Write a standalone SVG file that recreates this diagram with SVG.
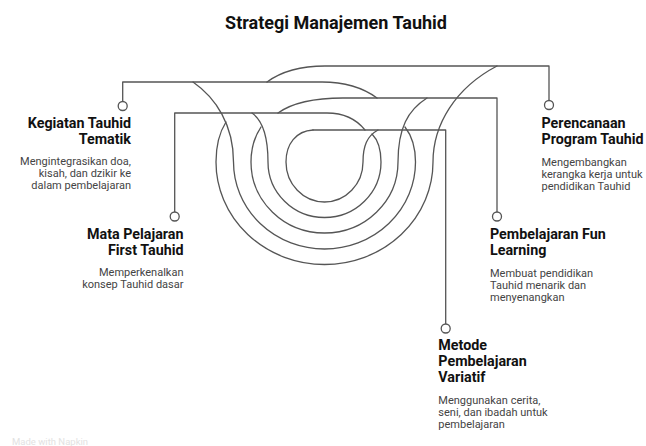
<svg xmlns="http://www.w3.org/2000/svg" width="646" height="446" viewBox="0 0 646 446">
<style>
.ln{fill:none;stroke:#555;stroke-width:1.3;stroke-linecap:round;stroke-linejoin:round}
.dot{fill:#fff;stroke:#555;stroke-width:1.3}
.ttl{font-family:Roboto,"Liberation Sans",sans-serif;font-weight:700;font-size:18px;fill:#111}
.hd{font-family:Roboto,"Liberation Sans",sans-serif;font-weight:700;font-size:14.3px;fill:#111}
.ds{font-family:Roboto,"Liberation Sans",sans-serif;font-size:11px;fill:#444}
.wm{font-family:Roboto,"Liberation Sans",sans-serif;font-size:9.5px;fill:#e2e2e2}
.r{text-anchor:end}
</style>
<rect width="646" height="446" fill="#fff"/>
<text class="ttl" x="336" y="28.5" text-anchor="middle">Strategi Manajemen Tauhid</text>
<g id="connectors">
<path class="ln" d="M226,122 C219,133 216,147 216,162 A108.5,102.5 0 0 0 433,162 C433,125 455,88 497,66"/>
<path class="ln" d="M193,82 C216,98 233.5,125 233.5,162 A91,87 0 0 0 415.5,162 C415.5,148 412,136 405,127"/>
<path class="ln" d="M261,127 C255,136 251,148 251,162 A73.5,71 0 0 0 398,162 C398,128 408,110 427,98"/>
<path class="ln" d="M252,113 C262,120 268,135 268,162 A56.5,55.5 0 0 0 381,162 C381,150 378,140 372,134"/>
<path class="ln" d="M313,130 C296,131 286,144 286,162 A38.5,40 0 0 0 363,162 C363,146 367,136 378,130"/>
<path class="ln" d="M267,82 C282,71 300,66 325,66 L549,66 L549,100.5"/>
<path class="ln" d="M122.7,101.5 L122.7,82 L322,82 C345,82 362,87 377,98"/>
<path class="ln" d="M278,113 C292,103 312,98 343,98 L497,98 L497,212"/>
<path class="ln" d="M174.7,212 L174.7,113 L327,113 C345,113 357,120 365,130"/>
<path class="ln" d="M313,130 L445.7,130 L445.7,324"/>
</g>
<g id="n-kegiatan">
<circle class="dot" cx="122.7" cy="106" r="4.5"/>
<text class="hd r" x="131" y="128">Kegiatan Tauhid</text>
<text class="hd r" x="131" y="144">Tematik</text>
<text class="ds r" x="131" y="165">Mengintegrasikan doa,</text>
<text class="ds r" x="131" y="177">kisah, dan dzikir ke</text>
<text class="ds r" x="131" y="189">dalam pembelajaran</text>
</g>
<g id="n-mata">
<circle class="dot" cx="174.7" cy="216.5" r="4.5"/>
<text class="hd r" x="183.5" y="238.5">Mata Pelajaran</text>
<text class="hd r" x="183.5" y="255">First Tauhid</text>
<text class="ds r" x="183.5" y="275.5">Memperkenalkan</text>
<text class="ds r" x="183.5" y="287.5">konsep Tauhid dasar</text>
</g>
<g id="n-perencanaan">
<circle class="dot" cx="549" cy="105" r="4.5"/>
<text class="hd" x="541.5" y="127.5">Perencanaan</text>
<text class="hd" x="541.5" y="143.5">Program Tauhid</text>
<text class="ds" x="541.5" y="165.5">Mengembangkan</text>
<text class="ds" x="541.5" y="177.5">kerangka kerja untuk</text>
<text class="ds" x="541.5" y="189.5">pendidikan Tauhid</text>
</g>
<g id="n-fun">
<circle class="dot" cx="497" cy="216.5" r="4.5"/>
<text class="hd" x="490" y="238.5">Pembelajaran Fun</text>
<text class="hd" x="490" y="255">Learning</text>
<text class="ds" x="490" y="277">Membuat pendidikan</text>
<text class="ds" x="490" y="289">Tauhid menarik dan</text>
<text class="ds" x="490" y="301">menyenangkan</text>
</g>
<g id="n-metode">
<circle class="dot" cx="445.7" cy="328.5" r="4.5"/>
<text class="hd" x="438.3" y="349.5">Metode</text>
<text class="hd" x="438.3" y="366">Pembelajaran</text>
<text class="hd" x="438.3" y="382">Variatif</text>
<text class="ds" x="438.3" y="404">Menggunakan cerita,</text>
<text class="ds" x="438.3" y="416">seni, dan ibadah untuk</text>
<text class="ds" x="438.3" y="428">pembelajaran</text>
</g>
<text class="wm" x="12" y="445">Made with Napkin</text>
</svg>
